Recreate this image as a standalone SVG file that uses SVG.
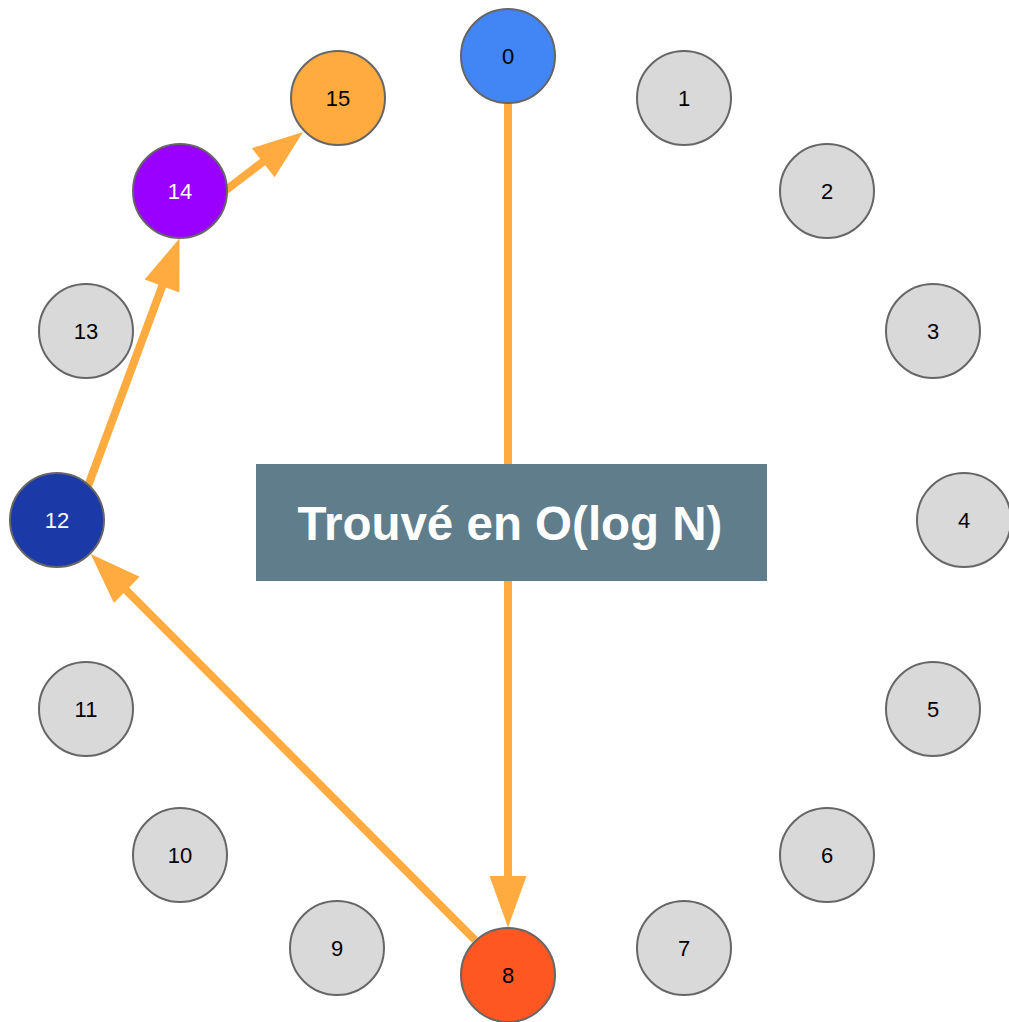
<svg xmlns="http://www.w3.org/2000/svg" width="1009" height="1022" viewBox="0 0 1009 1022">
<style>
.n circle{stroke:#666666;stroke-width:2}
.g circle{fill:#d9d9d9}
.n text{font-family:"Liberation Sans",Arial,sans-serif;font-size:22px;text-anchor:middle;fill:#000}
.w text{fill:#ffffff}
.e line{stroke:#ffab40;stroke-width:8;stroke-linecap:butt}
.e polygon{fill:#ffab40}
.lbl{font-family:"Liberation Sans",Arial,sans-serif;font-size:47.5px;font-weight:bold;fill:#ffffff;text-anchor:middle}
</style>
<rect width="1009" height="1022" fill="#ffffff"/>
<g id="connectors" class="e">
  <line x1="508" y1="103" x2="508" y2="878"/>
  <polygon points="489.5,876 526.5,876 508,927.5"/>
  <line x1="475" y1="940" x2="124" y2="588"/>
  <polygon points="139.6,576.8 113.9,602.9 90.7,554"/>
  <line x1="88" y1="486" x2="163" y2="284"/>
  <polygon points="144.6,279.6 179.4,292.4 179.6,238.3"/>
  <line x1="226" y1="190" x2="264" y2="161"/>
  <polygon points="251.8,148.2 274.6,177.2 303,132"/>
</g>
<g id="label">
  <rect x="256" y="464" width="511" height="117" fill="#607d8b"/>
  <text class="lbl" x="510" y="540">Trouvé en O(log N)</text>
</g>
<g id="node0" class="n"><circle cx="508" cy="56" r="47" fill="#4285f4"/><text x="508" y="64">0</text></g>
<g id="node1" class="n g"><circle cx="684" cy="98" r="47"/><text x="684" y="106">1</text></g>
<g id="node2" class="n g"><circle cx="827" cy="191" r="47"/><text x="827" y="199">2</text></g>
<g id="node3" class="n g"><circle cx="933" cy="331" r="47"/><text x="933" y="339">3</text></g>
<g id="node4" class="n g"><circle cx="964" cy="520" r="47"/><text x="964" y="528">4</text></g>
<g id="node5" class="n g"><circle cx="933" cy="709" r="47"/><text x="933" y="717">5</text></g>
<g id="node6" class="n g"><circle cx="827" cy="855" r="47"/><text x="827" y="863">6</text></g>
<g id="node7" class="n g"><circle cx="684" cy="948" r="47"/><text x="684" y="956">7</text></g>
<g id="node8" class="n"><circle cx="508" cy="975" r="47" fill="#ff5722"/><text x="508" y="983">8</text></g>
<g id="node9" class="n g"><circle cx="337" cy="948" r="47"/><text x="337" y="956">9</text></g>
<g id="node10" class="n g"><circle cx="180" cy="855" r="47"/><text x="180" y="863">10</text></g>
<g id="node11" class="n g"><circle cx="86" cy="709" r="47"/><text x="86" y="717">11</text></g>
<g id="node12" class="n w"><circle cx="57" cy="520" r="47" fill="#1c39a8"/><text x="57" y="528">12</text></g>
<g id="node13" class="n g"><circle cx="86" cy="331" r="47"/><text x="86" y="339">13</text></g>
<g id="node14" class="n w"><circle cx="180" cy="191" r="47" fill="#9900ff"/><text x="180" y="199">14</text></g>
<g id="node15" class="n"><circle cx="338" cy="98" r="47" fill="#ffab40"/><text x="338" y="106">15</text></g>
</svg>
